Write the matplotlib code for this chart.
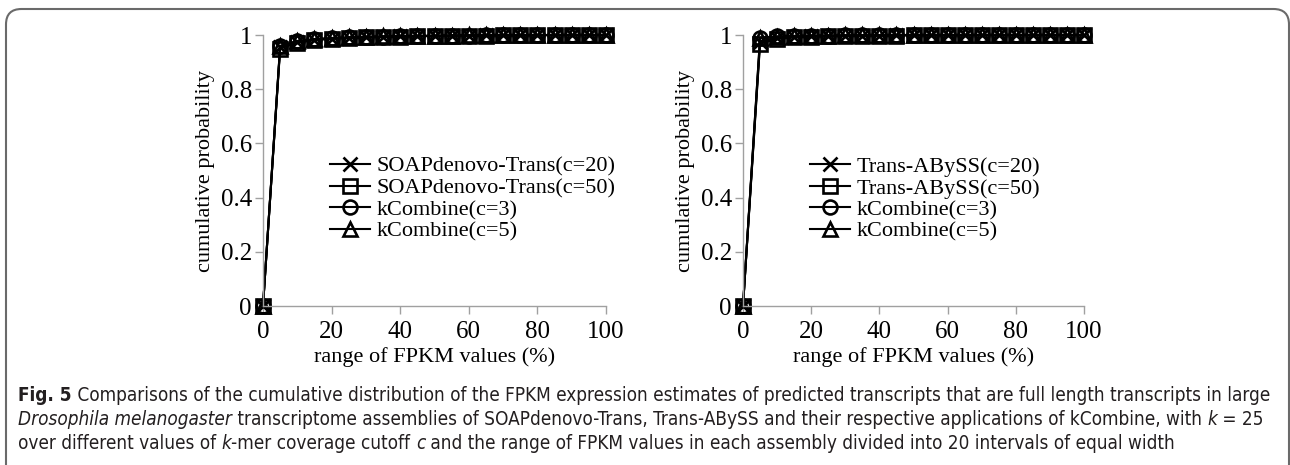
import numpy as np
import matplotlib
matplotlib.use("Agg")
from matplotlib import pyplot as plt
from matplotlib.patches import FancyBboxPatch

# x positions: FPKM range split in 20 equal intervals (%)
x_pct = [0, 5, 10, 15, 20, 25, 30, 35, 40, 45, 50, 55, 60, 65, 70, 75, 80, 85, 90, 95, 100]

# left panel
soap_c20 = [0, 0.955, 0.976, 0.983, 0.987, 0.990, 0.992, 0.994, 0.995, 0.996, 0.997,
            0.998, 0.998, 0.999, 0.999, 0.999, 0.999, 1.0, 1.0, 1.0, 1.0]
soap_c50 = [0, 0.950, 0.972, 0.981, 0.986, 0.989, 0.991, 0.993, 0.994, 0.995, 0.996,
            0.997, 0.998, 0.998, 0.999, 0.999, 0.999, 1.0, 1.0, 1.0, 1.0]
kc_left_c3 = [0, 0.958, 0.977, 0.984, 0.988, 0.991, 0.993, 0.994, 0.995, 0.996, 0.997,
              0.998, 0.998, 0.999, 0.999, 0.999, 1.0, 1.0, 1.0, 1.0, 1.0]
kc_left_c5 = [0, 0.960, 0.978, 0.985, 0.989, 0.991, 0.993, 0.995, 0.996, 0.997, 0.997,
              0.998, 0.999, 0.999, 0.999, 0.999, 1.0, 1.0, 1.0, 1.0, 1.0]

# right panel
abyss_c20 = [0, 0.975, 0.989, 0.993, 0.995, 0.996, 0.997, 0.998, 0.998, 0.999, 0.999,
             0.999, 0.999, 1.0, 1.0, 1.0, 1.0, 1.0, 1.0, 1.0, 1.0]
abyss_c50 = [0, 0.968, 0.986, 0.991, 0.994, 0.995, 0.996, 0.997, 0.998, 0.998, 0.999,
             0.999, 0.999, 0.999, 1.0, 1.0, 1.0, 1.0, 1.0, 1.0, 1.0]
kc_right_c3 = [0, 0.990, 0.995, 0.997, 0.998, 0.998, 0.999, 0.999, 0.999, 1.0, 1.0,
               1.0, 1.0, 1.0, 1.0, 1.0, 1.0, 1.0, 1.0, 1.0, 1.0]
kc_right_c5 = [0, 0.988, 0.994, 0.996, 0.997, 0.998, 0.999, 0.999, 0.999, 1.0, 1.0,
               1.0, 1.0, 1.0, 1.0, 1.0, 1.0, 1.0, 1.0, 1.0, 1.0]

left_labels = ["SOAPdenovo-Trans(c=20)", "SOAPdenovo-Trans(c=50)", "kCombine(c=3)", "kCombine(c=5)"]
right_labels = ["Trans-ABySS(c=20)", "Trans-ABySS(c=50)", "kCombine(c=3)", "kCombine(c=5)"]
markers = ["x", "s", "o", "^"]

SERIF = "Liberation Serif"
FS = 16
GRAY_AX = "#a0a0a0"

W, H = 1290, 465
fig = plt.figure(figsize=(W / 100, H / 100), dpi=100)
fig.patch.set_facecolor("white")


def px_axes(x0, x1, y_top, y_bot):
    return fig.add_axes([x0 / W, 1 - y_bot / H, (x1 - x0) / W, (y_bot - y_top) / H])


def panel(ax, series, labels):
    for ys, lab, m in zip(series, labels, markers):
        ax.plot(x_pct, ys, color="black", lw=1.5, marker=m, ms=10, mfc="none",
                mec="black", mew=1.9, label=lab, clip_on=False)
    ax.set_xlim(0, 100)
    ax.set_ylim(0, 1)
    ax.set_xticks([0, 20, 40, 60, 80, 100])
    ax.set_yticks([0, 0.2, 0.4, 0.6, 0.8, 1])
    ax.set_yticklabels(["0", "0.2", "0.4", "0.6", "0.8", "1"])
    for s in ["top", "right"]:
        ax.spines[s].set_visible(False)
    for s in ["left", "bottom"]:
        ax.spines[s].set_color(GRAY_AX)
        ax.spines[s].set_linewidth(1.0)
    ax.tick_params(direction="out", length=6, width=1.0, color=GRAY_AX,
                   labelsize=FS + 2)
    ax.tick_params(axis="x", pad=5)
    ax.tick_params(axis="y", pad=2)
    for t in ax.get_xticklabels() + ax.get_yticklabels():
        t.set_fontfamily(SERIF)
    ax.set_xlabel("range of FPKM values (%)", fontsize=FS, family=SERIF, labelpad=3)
    ax.set_ylabel("cumulative probability", fontsize=FS, family=SERIF, labelpad=4)
    leg = ax.legend(loc="upper left", bbox_to_anchor=(0.17, 0.585), frameon=False,
                    prop={"family": SERIF, "size": FS}, handlelength=1.8,
                    handletextpad=0.3, labelspacing=0.05, borderaxespad=0)
    return leg


ax1 = px_axes(263, 606, 35, 306)
panel(ax1, [soap_c20, soap_c50, kc_left_c3, kc_left_c5], left_labels)

ax2 = px_axes(743, 1084, 35, 306)
panel(ax2, [abyss_c20, abyss_c50, kc_right_c3, kc_right_c5], right_labels)

# rounded frame around the figure
frame = FancyBboxPatch((6 / W, -0.2), (1289 - 6) / W, 1.2 - 9 / H,
                       boxstyle="round,pad=0,rounding_size=0.012",
                       transform=fig.transFigure, fill=False,
                       edgecolor="#6a6a6a", lw=1.5, mutation_aspect=W / H)
fig.patches.append(frame)

# caption, pieces chained one after another on each line
CAP = "DejaVu Sans"
CFS = 13.6
CCOL = "#231f20"
lines = [
    [("Fig. 5", "bold", "normal"),
     (" Comparisons of the cumulative distribution of the FPKM expression estimates of predicted "
      "transcripts that are full length transcripts in large", "normal", "normal")],
    [("Drosophila melanogaster", "normal", "italic"),
     (" transcriptome assemblies of SOAPdenovo-Trans, Trans-ABySS and their respective "
      "applications of kCombine, with ", "normal", "normal"),
     ("k", "normal", "italic"),
     (" = 25", "normal", "normal")],
    [("over different values of ", "normal", "normal"),
     ("k", "normal", "italic"),
     ("-mer coverage cutoff ", "normal", "normal"),
     ("c", "normal", "italic"),
     (" and the range of FPKM values in each assembly divided into 20 intervals of equal width",
      "normal", "normal")],
]
line_y = [401, 425, 449]
for pieces, yy in zip(lines, line_y):
    prev = None
    for txt, wt, st in pieces:
        kw = dict(fontsize=CFS, family=CAP, stretch="condensed", weight=wt,
                  style=st, color=CCOL, va="baseline", ha="left")
        if prev is None:
            prev = fig.text(18 / W, 1 - yy / H, txt, **kw)
        else:
            prev = fig.text(0, 0, txt, transform=fig.transFigure, **kw)
            prev._chain_from = chain_src
        chain_src = prev

# position chained pieces after measuring the preceding one
fig.canvas.draw()
r = fig.canvas.get_renderer()
for t in fig.texts:
    src = getattr(t, "_chain_from", None)
    if src is not None:
        bb = src.get_window_extent(r)
        x0, y0 = src.get_position()
        t.set_position((bb.x1 / W, y0))

fig.savefig("out.png", dpi=100)
